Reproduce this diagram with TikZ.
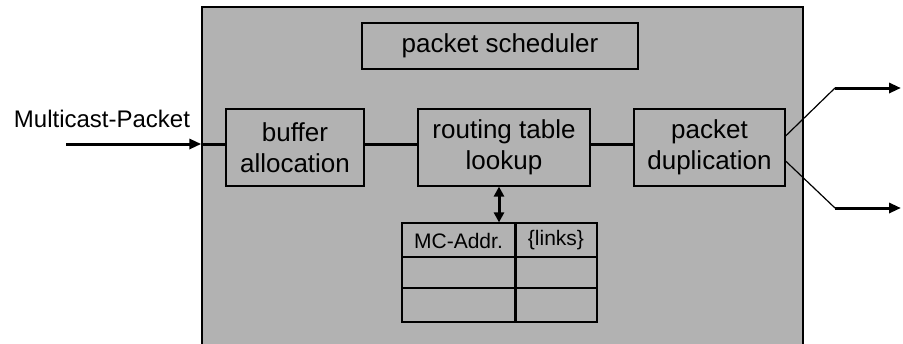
\documentclass[tikz,border=0pt]{standalone}
\usepackage{fontspec}
\setmainfont{Liberation Sans}
\usetikzlibrary{arrows.meta,calc}
\definecolor{boxgray}{RGB}{178,178,178}
\begin{document}
\begin{tikzpicture}[x=1pt,y=-1pt,
  blk/.style={draw=black,line width=1.2pt,fill=boxgray,inner sep=0pt,align=center,font=\fontsize{26}{31}\selectfont},
  conn/.style={line width=3pt},
  thinconn/.style={line width=1.2pt},
  tip/.style={-{Triangle[length=12pt,width=10pt]}},
  cell/.style={inner sep=0pt,font=\fontsize{21}{24}\selectfont}]
\useasboundingbox (0,0) rectangle (903,343);
% big box (its bottom edge lies below the picture)
\begin{scope}
\clip (0,0) rectangle (903,343);
\node[draw=black,line width=1.4pt,fill=boxgray,minimum width=601pt,minimum height=345pt,inner sep=0pt] (big) at (502.5,179.5) {};
\end{scope}
% blocks
\node[blk,minimum width=276pt,minimum height=46pt] (sch) at (500,46) {packet scheduler};
\node[blk,minimum width=138pt,minimum height=77pt] (buf) at (295,147.5) {buffer\\allocation};
\node[blk,minimum width=172pt,minimum height=77pt] (rt) at (504,147.5) {routing table\\lookup};
\node[blk,minimum width=151pt,minimum height=77pt] (dup) at (709.5,147.5) {packet\\duplication};
% label
\node[font=\fontsize{24}{27}\selectfont,inner sep=0pt] (lbl) at (102,119) {Multicast-Packet};
% input
\coordinate (in) at (66,144);
\draw[conn,tip] (in) -- (in -| big.west);
\draw[conn] (in -| big.west) -- (in -| buf.west);
\draw[conn] (buf.east |- in) -- (rt.west |- in);
\draw[conn] (rt.east |- in) -- (dup.west |- in);
% outputs
\coordinate (o1a) at ($(dup.east)+(0,-11.5)$);
\coordinate (o1b) at (835,88);
\coordinate (o1c) at (901,88);
\coordinate (o2a) at ($(dup.east)+(0,13.5)$);
\coordinate (o2b) at (835,208);
\coordinate (o2c) at (901,208);
\draw[thinconn] (o1a) -- (o1b);
\draw[conn,tip] (o1b) -- (o1c);
\draw[thinconn] (o2a) -- (o2b);
\draw[conn,tip] (o2b) -- (o2c);
% table
\node[draw=black,line width=1.2pt,minimum width=195pt,minimum height=99pt,inner sep=0pt] (tbl) at (499.5,272.5) {};
\draw[line width=3pt] (515,223) -- (515,322);
\draw[line width=2.5pt] (402,257) -- (597,257);
\draw[line width=2.5pt] (402,288) -- (597,288);
\node[cell] (c1) at (458.5,240.5) {MC-Addr.};
\node[cell] (c2) at (556,240.5) {\{links\}};
% double arrow
\coordinate (ax) at (499,0);
\draw[line width=3pt,{Triangle[length=10pt,width=10pt]}-{Triangle[length=10pt,width=10pt]}] (ax |- rt.south) -- (ax |- tbl.north);
\end{tikzpicture}
\end{document}
